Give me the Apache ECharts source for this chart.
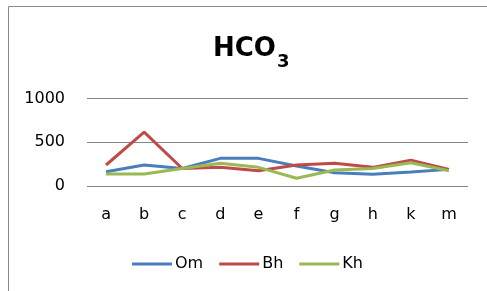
<!DOCTYPE html>
<html>
<head>
<meta charset="utf-8">
<script src="https://cdn.jsdelivr.net/npm/echarts@6/dist/echarts.min.js"></script>
<style>
  html, body { margin: 0; padding: 0; background: #fff; }
  #chart { width: 487px; height: 291px; }
</style>
</head>
<body>
<div id="chart"></div>
<script>
// 数据
const categories = ['a', 'b', 'c', 'd', 'e', 'f', 'g', 'h', 'k', 'm'];
const om = [163, 240, 200, 316, 316, 228, 152, 133, 160, 190];
const bh = [240, 615, 200, 213, 175, 240, 259, 213, 296, 190];
const kh = [137, 137, 200, 259, 213, 88, 182, 200, 266, 175];
const yTicks = [0, 500, 1000];

const chart = echarts.init(document.getElementById('chart'));

const labelFont = {
    fontFamily: 'DejaVu Sans',
    fontSize: 16,
    color: '#000'
};

chart.setOption({
    animation: false,
    title: {
        text: '{a|HCO}{b|3}',
        left: 208,
        top: 31,
        textStyle: {
            rich: {
                a: { fontFamily: 'DejaVu Sans', fontWeight: 'bold', fontSize: 26, color: '#000', lineHeight: 34, verticalAlign: 'top' },
                b: { fontFamily: 'DejaVu Sans', fontWeight: 'bold', fontSize: 18, color: '#000', lineHeight: 18, padding: [17, 0, 0, 1], verticalAlign: 'top' }
            }
        }
    },
    graphic: [{
        type: 'rect',
        shape: { x: 8.5, y: 6.5, width: 520, height: 320 },
        style: { fill: 'none', stroke: '#8a8a8a', lineWidth: 1 },
        silent: true
    }],
    legend: {
        left: 127,
        top: 251,
        icon: 'rect',
        itemWidth: 40,
        itemHeight: 3,
        itemGap: 16,
        textStyle: Object.assign({}, labelFont, { padding: [0, 0, 0, -2] }),
        data: ['Om', 'Bh', 'Kh']
    },
    grid: {
        left: 87,
        right: 19,
        top: 98.5,
        bottom: 105,
        containLabel: false
    },
    xAxis: {
        type: 'category',
        data: categories,
        boundaryGap: true,
        axisLine: { show: false },
        axisTick: { show: false },
        axisLabel: Object.assign({}, labelFont, { margin: 21 })
    },
    yAxis: {
        type: 'value',
        min: yTicks[0],
        max: yTicks[yTicks.length - 1],
        interval: 500,
        axisLine: { show: false },
        axisTick: { show: false },
        axisLabel: Object.assign({}, labelFont, {
            margin: 22,
            formatter: function (v) { return String(v); }
        }),
        splitLine: { lineStyle: { color: '#868686', width: 1 } }
    },
    series: [
        { name: 'Om', type: 'line', data: om, symbol: 'none', lineStyle: { color: '#4a7ebb', width: 3 }, itemStyle: { color: '#4a7ebb' } },
        { name: 'Bh', type: 'line', data: bh, symbol: 'none', lineStyle: { color: '#be4b48', width: 3 }, itemStyle: { color: '#be4b48' } },
        { name: 'Kh', type: 'line', data: kh, symbol: 'none', lineStyle: { color: '#98b954', width: 3 }, itemStyle: { color: '#98b954' } }
    ]
});
</script>
</body>
</html>
